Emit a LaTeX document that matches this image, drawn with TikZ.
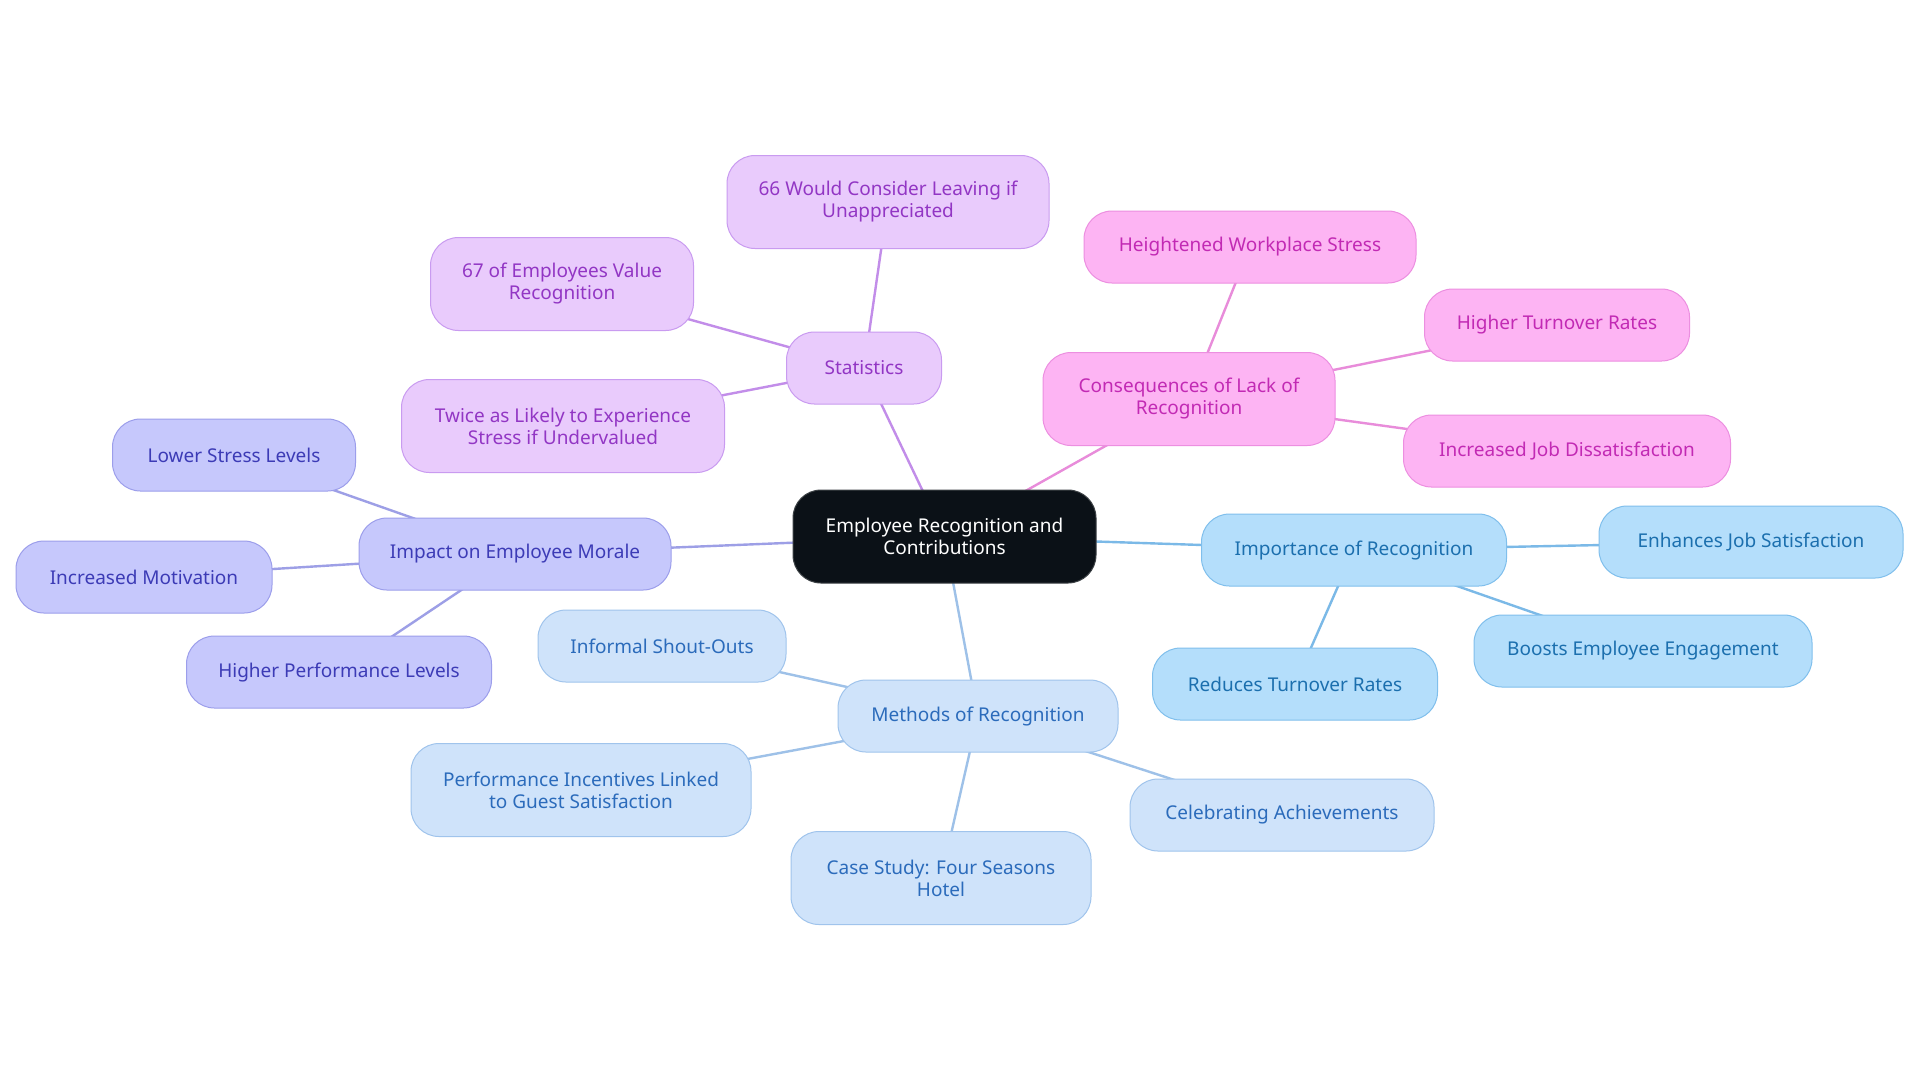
\documentclass[tikz,border=0pt]{standalone}
\usepackage{fontspec}
\setmainfont{Noto Sans}
\usetikzlibrary{backgrounds}
\pgfdeclarelayer{paper}
\pgfsetlayers{paper,background,main}
\definecolor{ctrfill}{HTML}{0B1117}
\definecolor{pufill}{HTML}{E9CBFC}\definecolor{pudraw}{HTML}{C99BF0}\definecolor{putext}{HTML}{9236C4}\definecolor{puline}{HTML}{C28DE9}
\definecolor{pifill}{HTML}{FDB4F3}\definecolor{pidraw}{HTML}{EC8FE0}\definecolor{pitext}{HTML}{C22AB4}\definecolor{piline}{HTML}{E88CDA}
\definecolor{bifill}{HTML}{B4DEFB}\definecolor{bidraw}{HTML}{80BFEC}\definecolor{bitext}{HTML}{1B6FAE}\definecolor{biline}{HTML}{7BB9E7}
\definecolor{lbfill}{HTML}{CFE3FA}\definecolor{lbdraw}{HTML}{A0C4EC}\definecolor{lbtext}{HTML}{2B6BBB}\definecolor{lbline}{HTML}{9EC1E8}
\definecolor{vifill}{HTML}{C6C8FC}\definecolor{vidraw}{HTML}{9C9EEB}\definecolor{vitext}{HTML}{3C3BB6}\definecolor{viline}{HTML}{9D9FE6}
\tikzset{
  box/.style={rounded corners=14pt, inner sep=0pt, align=center, line width=0.5pt,
    font=\fontsize{9.5}{11}\selectfont, minimum height=36pt},
  tall/.style={minimum height=46.5pt},
  ctr/.style={box, fill=ctrfill, draw=ctrfill!80!white, text=white},
  pu/.style={box, fill=pufill, draw=pudraw, text=putext},
  pi/.style={box, fill=pifill, draw=pidraw, text=pitext},
  bi/.style={box, fill=bifill, draw=bidraw, text=bitext},
  lb/.style={box, fill=lbfill, draw=lbdraw, text=lbtext},
  vi/.style={box, fill=vifill, draw=vidraw, text=vitext},
  edge/.style={line width=1.2pt},
}
\begin{document}
\begin{tikzpicture}[x=0.5pt,y=-0.5pt]
\begin{pgfonlayer}{paper}
\fill[white] (0,0) rectangle (1920,1083);
\end{pgfonlayer}
\useasboundingbox (0,0) rectangle (1920,1083);
\node[ctr, tall, minimum width=151.5pt] (ctr) at (944.5,536.5) {Employee Recognition and\\Contributions};
% Statistics
\node[pu, minimum width=77.5pt] (stat) at (864,368) {Statistics};
\node[pu, tall, minimum width=161pt] (s1) at (888,202) {66 Would Consider Leaving if\\Unappreciated};
\node[pu, tall, minimum width=131.5pt] (s2) at (562,284) {67 of Employees Value\\Recognition};
\node[pu, tall, minimum width=161.5pt] (s3) at (563,426) {Twice as Likely to Experience\\Stress if Undervalued};
% Consequences
\node[pi, tall, minimum width=146pt] (cons) at (1189,399) {Consequences of Lack of\\Recognition};
\node[pi, minimum width=166pt] (c1) at (1250,247) {Heightened Workplace Stress};
\node[pi, minimum width=132.5pt] (c2) at (1557,325) {Higher Turnover Rates};
\node[pi, minimum width=163.5pt] (c3) at (1567,451) {Increased Job Dissatisfaction};
% Importance
\node[bi, minimum width=152.5pt] (imp) at (1354,550) {Importance of Recognition};
\node[bi, minimum width=152pt] (i1) at (1751,542) {Enhances Job Satisfaction};
\node[bi, minimum width=169pt] (i2) at (1643,651) {Boosts Employee Engagement};
\node[bi, minimum width=142.5pt] (i3) at (1295,684) {Reduces Turnover Rates};
% Methods
\node[lb, minimum width=140pt] (meth) at (978,716) {Methods of Recognition};
\node[lb, minimum width=124pt] (m1) at (662,646) {Informal Shout-Outs};
\node[lb, tall, minimum width=170pt] (m2) at (581,790) {Performance Incentives Linked\\to Guest Satisfaction};
\node[lb, tall, minimum width=150pt] (m3) at (941,878) {Case Study: Four Seasons\\Hotel};
\node[lb, minimum width=152pt] (m4) at (1282,815) {Celebrating Achievements};
% Morale
\node[vi, minimum width=156pt] (mor) at (515,554) {Impact on Employee Morale};
\node[vi, minimum width=121.5pt] (r1) at (234,455) {Lower Stress Levels};
\node[vi, minimum width=128pt] (r2) at (144,577) {Increased Motivation};
\node[vi, minimum width=152.5pt] (r3) at (339,672) {Higher Performance Levels};
\begin{pgfonlayer}{background}
\draw[edge, puline] (ctr.center) -- (stat.center);
\draw[edge, puline] (stat.center) -- (s1.center);
\draw[edge, puline] (stat.center) -- (s2.center);
\draw[edge, puline] (stat.center) -- (s3.center);
\draw[edge, piline] (ctr.center) -- (cons.center);
\draw[edge, piline] (cons.center) -- (c1.center);
\draw[edge, piline] (cons.center) -- (c2.center);
\draw[edge, piline] (cons.center) -- (c3.center);
\draw[edge, biline] (ctr.center) -- (imp.center);
\draw[edge, biline] (imp.center) -- (i1.center);
\draw[edge, biline] (imp.center) -- (i2.center);
\draw[edge, biline] (imp.center) -- (i3.center);
\draw[edge, lbline] (ctr.center) -- (meth.center);
\draw[edge, lbline] (meth.center) -- (m1.center);
\draw[edge, lbline] (meth.center) -- (m2.center);
\draw[edge, lbline] (meth.center) -- (m3.center);
\draw[edge, lbline] (meth.center) -- (m4.center);
\draw[edge, viline] (ctr.center) -- (mor.center);
\draw[edge, viline] (mor.center) -- (r1.center);
\draw[edge, viline] (mor.center) -- (r2.center);
\draw[edge, viline] (mor.center) -- (r3.center);
\end{pgfonlayer}
\end{tikzpicture}
\end{document}
